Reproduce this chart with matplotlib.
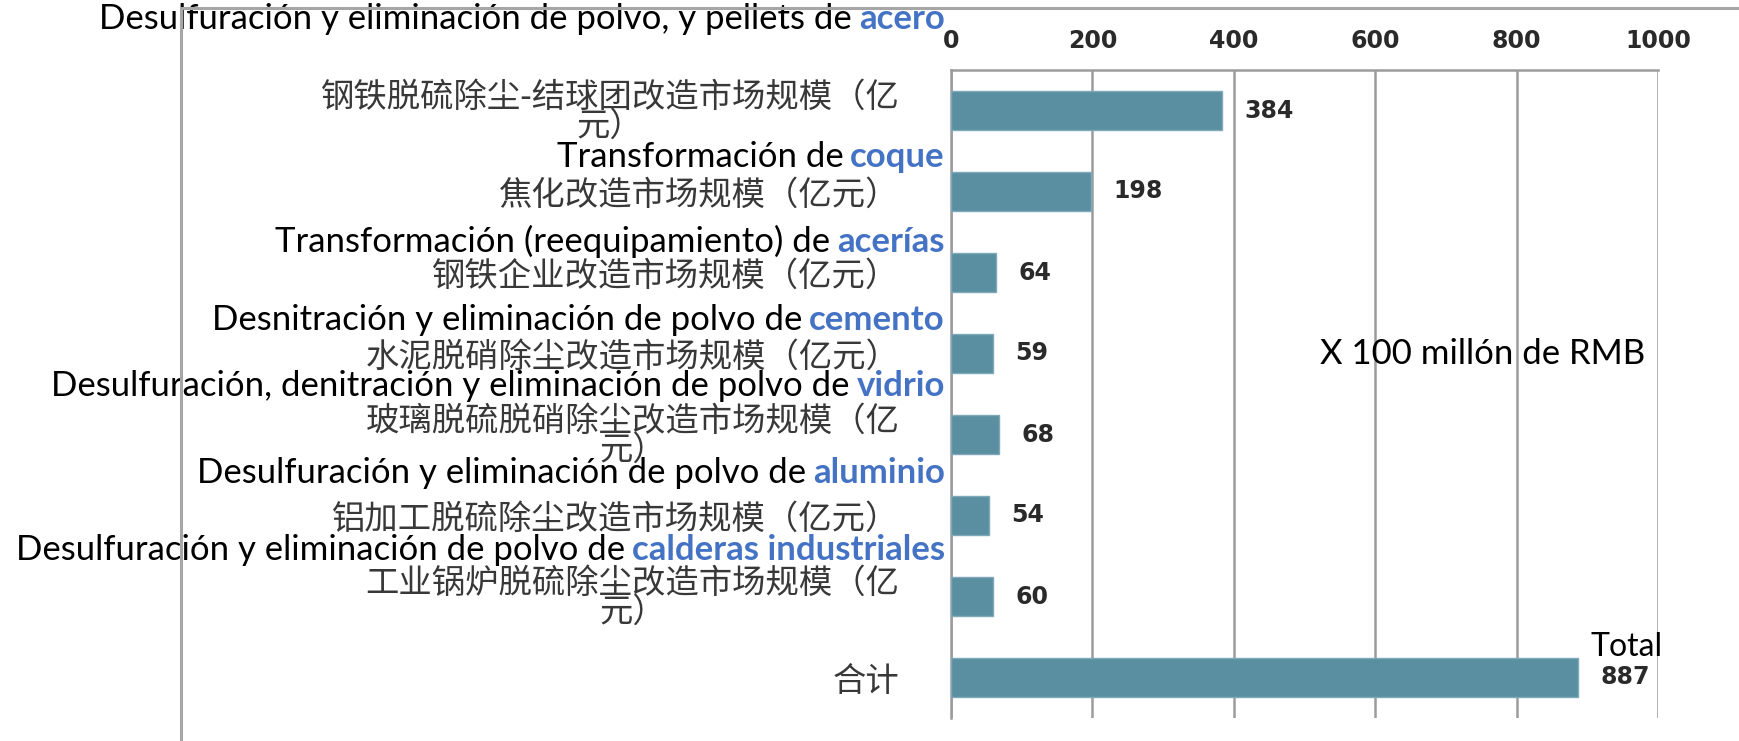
import matplotlib
matplotlib.use('Agg')
import matplotlib.pyplot as plt
from matplotlib.patches import Rectangle
from matplotlib.transforms import blended_transform_factory

##########Data##########
#Chinese category labels (original chart)
categories_cn = ['钢铁脱硫除尘-结球团改造市场规模（亿\n元）',
                 '焦化改造市场规模（亿元）',
                 '钢铁企业改造市场规模（亿元）',
                 '水泥脱硝除尘改造市场规模（亿元）',
                 '玻璃脱硫脱硝除尘改造市场规模（亿\n元）',
                 '铝加工脱硫除尘改造市场规模（亿元）',
                 '工业锅炉脱硫除尘改造市场规模（亿\n元）',
                 '合计']
#Market size, x 100 million RMB
values = [384, 198, 64, 59, 68, 54, 60, 887]
ticks = [0, 200, 400, 600, 800, 1000]

#Spanish translations: plain part + highlighted keyword
es_text = ['Desulfuración y eliminación de polvo, y pellets de',
           'Transformación de',
           'Transformación (reequipamiento) de',
           'Desnitración y eliminación de polvo de',
           'Desulfuración, denitración y eliminación de polvo de',
           'Desulfuración y eliminación de polvo de',
           'Desulfuración y eliminación de polvo de']
es_keyword = ['acero', 'coque', 'acerías', 'cemento', 'vidrio',
              'aluminio', 'calderas industriales']
unit_text = 'X 100 millón de RMB'
total_text = 'Total'

#Layout: where the translations sit (in category units)
es_y = [-1.13, 0.58, 1.62, 2.59, 3.4, 4.47, 5.43]

##########Figure##########
W, H = 1740, 741
fig = plt.figure(figsize=(W / 100, H / 100), dpi=100)
fig.patch.set_facecolor('white')

#Outer chart border
fig.add_artist(Rectangle((181 / W, -0.05), 2, 1.05 - 8 / H, transform=fig.transFigure,
                         fill=False, edgecolor='#a6a6a6', lw=2.2))

ax = fig.add_axes([951 / W, 1 - 718 / H, (1658 - 951) / W, (718 - 70) / H])

grid_col = '#9c9c9c'
ypos = list(range(len(values)))
bars = ax.barh(ypos, values, height=0.48, color='#5a8fa2', edgecolor='#7fa9b9', lw=1, zorder=3)

ax.set_xlim(0, 1000)
ax.set_ylim(len(values) - 0.5, -0.5)
ax.set_xticks(ticks)
ax.set_xticklabels([str(t) for t in ticks], family='DejaVu Sans', fontsize=17,
                   fontweight='bold', color='#2a2a2a')
ax.xaxis.tick_top()
ax.tick_params(axis='x', length=0, pad=12)
ax.grid(axis='x', color=grid_col, lw=1.8, zorder=0)

#Chinese category labels
ax.set_yticks(ypos)
ax.set_yticklabels(categories_cn, family=['Noto Sans CJK SC', 'DejaVu Sans'],
                   fontsize=24, color='#383838', linespacing=0.78)
for lab in ax.get_yticklabels():
    lab.set_multialignment('center')
ax.tick_params(axis='y', length=0, pad=37)

for s in ['right', 'bottom']:
    ax.spines[s].set_visible(False)
for s in ['top', 'left']:
    ax.spines[s].set_color(grid_col)
    ax.spines[s].set_linewidth(1.8)

#Value labels
ax.bar_label(bars, labels=[str(v) for v in values], padding=16,
             family='DejaVu Sans', fontsize=17, fontweight='bold', color='#2a2a2a')

#Spanish overlay labels
trans = blended_transform_factory(fig.transFigure, ax.transData)
for txt, kw, y in zip(es_text, es_keyword, es_y):
    blue = ax.text(945 / W, y, kw, transform=trans, ha='right', va='center',
                   family='Lato', fontweight='bold', fontsize=25, color='#4472C4',
                   zorder=5, clip_on=False)
    ax.annotate(txt, xy=(0, 0), xycoords=blue, xytext=(-7, 0), textcoords='offset pixels',
                ha='right', va='bottom', family='Lato', fontsize=25, color='black',
                zorder=5, annotation_clip=False)

ax.text(522, 3.01, unit_text, ha='left', va='center', family='Lato', fontsize=25, color='black')
ax.text(905, 6.62, total_text, ha='left', va='center', family='Lato', fontsize=23, color='black')

plt.savefig('out.png', dpi=100)
